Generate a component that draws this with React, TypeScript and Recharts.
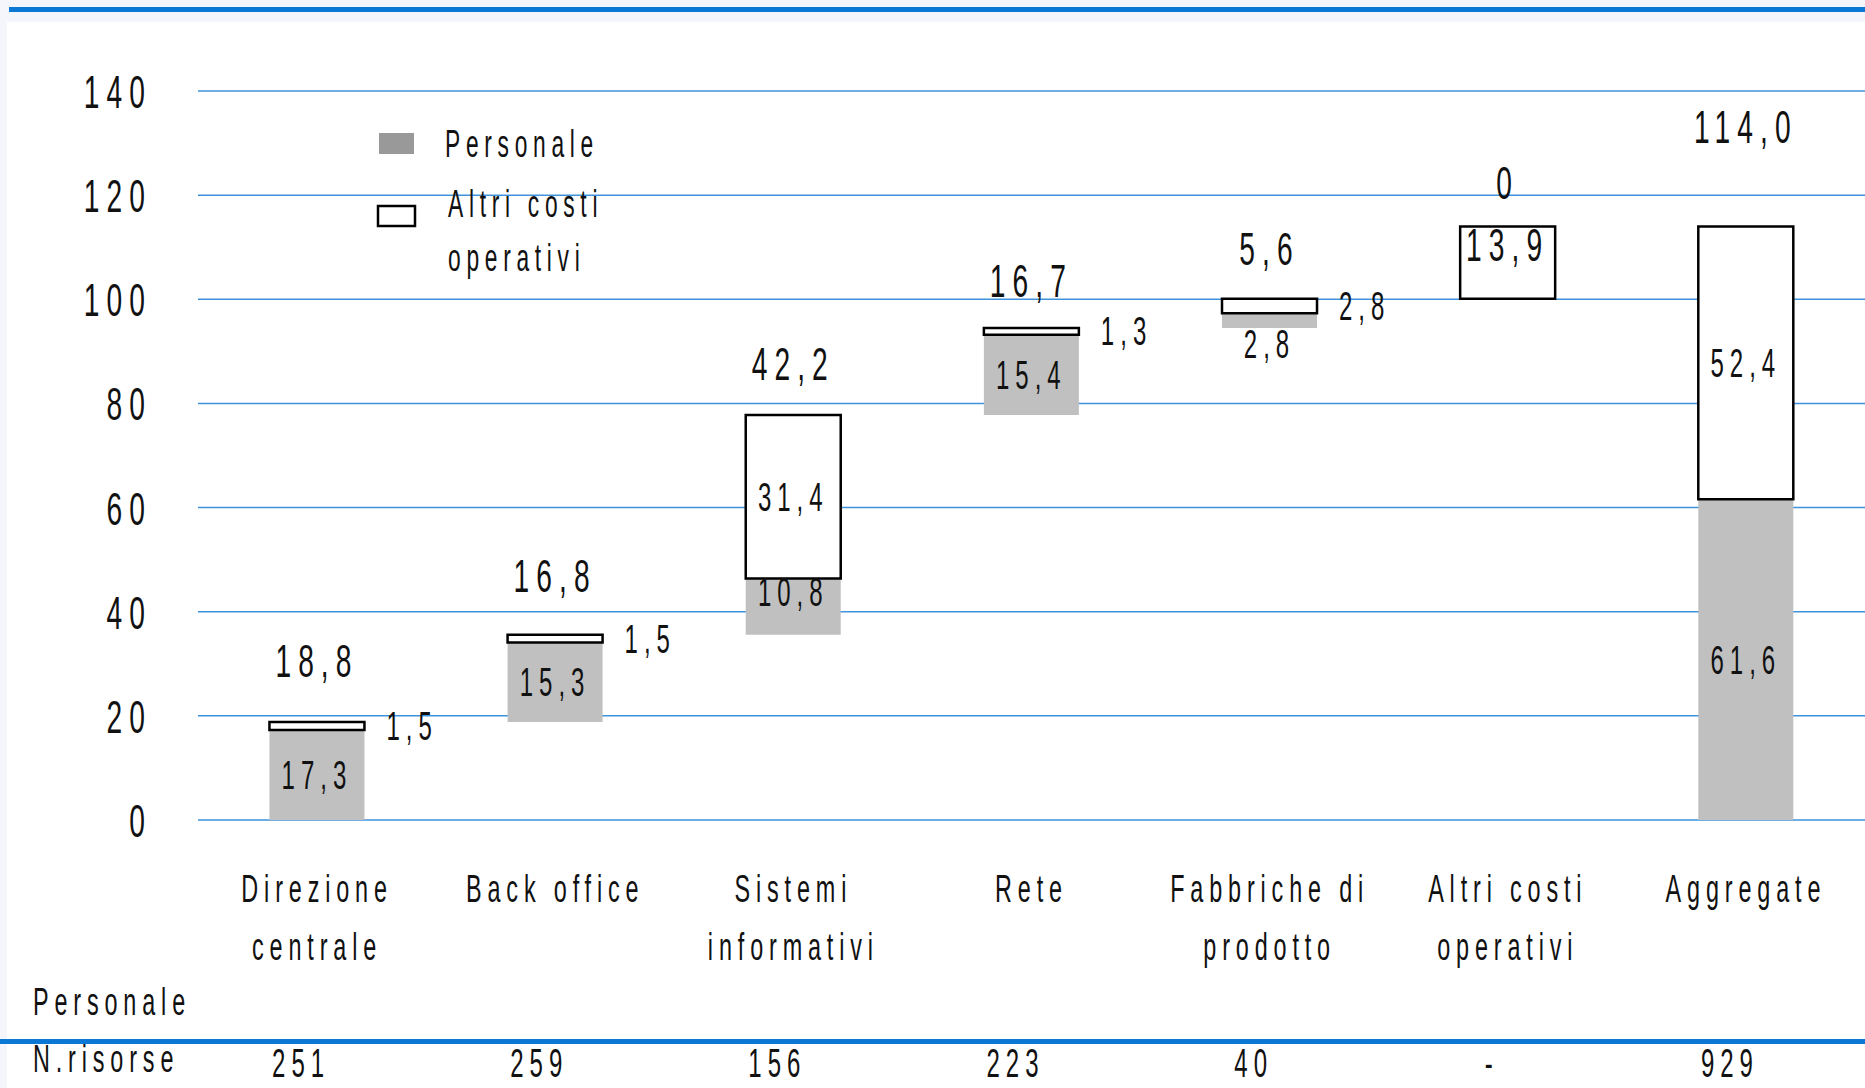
import React from 'react'
import {
  Bar,
  BarChart,
  CartesianGrid,
  LabelList,
  Legend,
  XAxis,
  YAxis,
} from 'recharts'

const categories = [
  'Direzione centrale',
  'Back office',
  'Sistemi informativi',
  'Rete',
  'Fabbriche di prodotto',
  'Altri costi operativi',
  'Aggregate',
]
const categoryLines = [
  ['Direzione', 'centrale'],
  ['Back office'],
  ['Sistemi', 'informativi'],
  ['Rete'],
  ['Fabbriche di', 'prodotto'],
  ['Altri costi', 'operativi'],
  ['Aggregate'],
]
const personale = [17.3, 15.3, 10.8, 15.4, 2.8, 0, 61.6]
const altriCosti = [1.5, 1.5, 31.4, 1.3, 2.8, 13.9, 52.4]
const risorse = ['251', '259', '156', '223', '40', '-', '929']
const yTicks = [0, 20, 40, 60, 80, 100, 120, 140]
const seriesNames = ['Personale', 'Altri costi operativi']

// where each segment's value label goes
const personaleLabelPos = ['inside', 'inside', 'insideTop', 'inside', 'below', 'top', 'inside']
const altriLabelPos = ['side', 'side', 'inside', 'side', 'side', 'insideTop', 'inside']
const totalLift = [62, 60, 52, 48, 51, 44, 100]

const W = 1865
const H = 1088
const FONT = "'Liberation Sans', Arial, sans-serif"
const SX = 0.6
const BLUE = '#0a78d4'
const GRID = '#3f93dc'

// waterfall: each column starts where the previous one ended, the aggregate starts at 0
let running = 0
const rows = categories.map((name, i) => {
  const base = i === categories.length - 1 ? 0 : running
  running += personale[i] + altriCosti[i]
  return { name, base, personale: personale[i], altri: altriCosti[i] }
})

const fmt = (v: number) => (v === 0 ? '0' : v.toFixed(1).replace('.', ','))

function NarrowText({ x, y, size, anchor = 'middle', children }: any) {
  return (
    <text
      transform={`translate(${x} ${y}) scale(${SX} 1)`}
      fontSize={size}
      textAnchor={anchor}
      letterSpacing={size * 0.25}
      fontFamily={FONT}
      fill="#111"
    >
      {children}
    </text>
  )
}

// zero-height bars are skipped, so the column is found from its name
const colOf = (props: any) => categories.indexOf(props.value)

const box = (props: any) => {
  const vb = props.viewBox ?? props
  const h = Number(vb.height) || 0
  const y = Number(vb.y)
  return { x: Number(vb.x), w: Number(vb.width), top: h < 0 ? y + h : y, h: Math.abs(h) }
}

function PersonaleLabel(props: any) {
  const i = colOf(props)
  const mode = personaleLabelPos[i]
  if (i < 0 || mode === 'top') return null
  const { x, w, top, h } = box(props)
  let cy = top + h / 2
  if (mode === 'insideTop') cy = top + 14
  if (mode === 'below') cy = top + h + 16
  return (
    <NarrowText x={x + w / 2} y={cy + 14} size={40}>
      {fmt(personale[i])}
    </NarrowText>
  )
}

function AltriLabel(props: any) {
  const i = colOf(props)
  if (i < 0) return null
  const mode = altriLabelPos[i]
  const { x, w, top, h } = box(props)
  if (mode === 'side') {
    return (
      <NarrowText x={x + w + 22} y={top + h / 2 + 14} size={40} anchor="start">
        {fmt(altriCosti[i])}
      </NarrowText>
    )
  }
  if (mode === 'insideTop') {
    return (
      <NarrowText x={x + w / 2} y={top + 18 + 17} size={47}>
        {fmt(altriCosti[i])}
      </NarrowText>
    )
  }
  return (
    <NarrowText x={x + w / 2} y={top + h / 2 + 14} size={40}>
      {fmt(altriCosti[i])}
    </NarrowText>
  )
}

function TotalLabel(props: any) {
  const i = colOf(props)
  if (i < 0) return null
  const { x, w, top } = box(props)
  const text =
    personaleLabelPos[i] === 'top' ? fmt(personale[i]) : fmt(personale[i] + altriCosti[i])
  return (
    <NarrowText x={x + w / 2} y={top - totalLift[i] + 17} size={47}>
      {text}
    </NarrowText>
  )
}

function ValueTick({ x, y, payload }: any) {
  return (
    <NarrowText x={x} y={y + 17} size={47} anchor="end">
      {payload.value}
    </NarrowText>
  )
}

function CategoryTick({ x, y, payload }: any) {
  const i = categories.indexOf(payload.value)
  const lines = categoryLines[i] ?? [payload.value]
  return (
    <g>
      {lines.map((line, k) => (
        <NarrowText key={k} x={x} y={y + 82 + k * 58} size={39}>
          {line}
        </NarrowText>
      ))}
      <NarrowText x={x - 16} y={y + 257} size={40}>
        {risorse[i]}
      </NarrowText>
    </g>
  )
}

function LegendBox() {
  return (
    <svg width={300} height={170}>
      <rect x={9} y={13} width={35} height={21} fill="#999999" />
      <NarrowText x={75} y={37} size={38} anchor="start">
        {seriesNames[0]}
      </NarrowText>
      <rect x={8} y={86} width={37} height={20} fill="#fff" stroke="#000" strokeWidth={2.5} />
      <NarrowText x={78} y={97} size={38} anchor="start">
        Altri costi
      </NarrowText>
      <NarrowText x={78} y={151} size={38} anchor="start">
        operativi
      </NarrowText>
    </svg>
  )
}

export default function App() {
  return (
    <div
      style={{
        position: 'absolute',
        left: 0,
        top: 0,
        width: W,
        height: H,
        background: '#f4f6fb',
        overflow: 'hidden',
      }}
    >
      <div style={{ position: 'absolute', left: 7, top: 22, right: 0, bottom: 0, background: '#fff' }} />
      <div style={{ position: 'absolute', left: 0, top: 0 }}>
        <BarChart
          width={W}
          height={H}
          data={rows}
          margin={{ top: 91, right: 0, bottom: 0, left: 0 }}
          barCategoryGap="30%"
        >
          <CartesianGrid vertical={false} stroke={GRID} strokeWidth={1.5} />
          <XAxis
            dataKey="name"
            interval={0}
            height={268}
            axisLine={false}
            tickLine={false}
            tickSize={0}
            tickMargin={0}
            tick={<CategoryTick />}
          />
          <YAxis
            domain={[0, 140]}
            ticks={yTicks}
            width={198}
            axisLine={false}
            tickLine={false}
            tickSize={0}
            tickMargin={46}
            tick={<ValueTick />}
          />
          <Legend
            layout="horizontal"
            verticalAlign="middle"
            align="center"
            wrapperStyle={{ position: 'absolute', left: 370, top: 120, width: 300, height: 170 }}
            content={() => <LegendBox />}
          />
          <Bar dataKey="base" stackId="s" fill="transparent" isAnimationActive={false} />
          <Bar dataKey="personale" stackId="s" fill="#c0c0c0" isAnimationActive={false}>
            <LabelList dataKey="name" content={<PersonaleLabel />} />
          </Bar>
          <Bar
            dataKey="altri"
            stackId="s"
            fill="#ffffff"
            stroke="#000"
            strokeWidth={2.5}
            isAnimationActive={false}
          >
            <LabelList dataKey="name" content={<AltriLabel />} />
            <LabelList dataKey="name" content={<TotalLabel />} />
          </Bar>
        </BarChart>
      </div>
      <svg
        width={W}
        height={H}
        style={{ position: 'absolute', left: 0, top: 0, pointerEvents: 'none' }}
      >
        <rect x={9} y={7} width={W - 9} height={5} fill={BLUE} />
        <rect x={0} y={1039} width={W} height={5} fill={BLUE} />
        <NarrowText x={33} y={1015} size={39} anchor="start">
          Personale
        </NarrowText>
        <NarrowText x={33} y={1072} size={39} anchor="start">
          N.risorse
        </NarrowText>
      </svg>
    </div>
  )
}
